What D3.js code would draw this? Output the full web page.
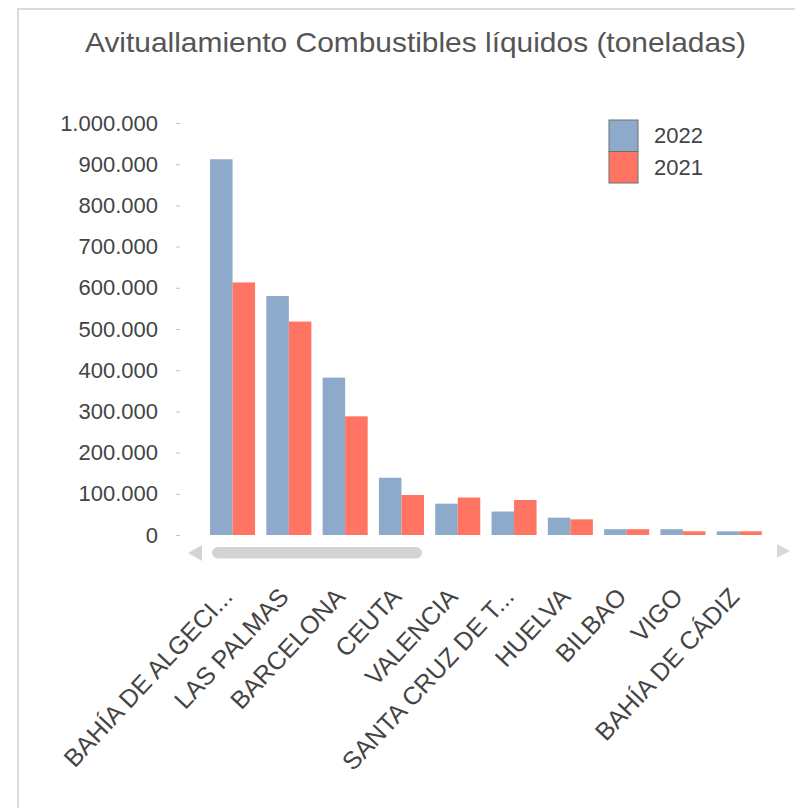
<!DOCTYPE html>
<html>
<head>
<meta charset="utf-8">
<script src="https://cdn.jsdelivr.net/npm/d3@7"></script>
<style>
  body { margin: 0; background: #fff; }
  svg { display: block; font-family: 'Liberation Sans', Arial, sans-serif; }
</style>
</head>
<body>
<svg id="canvas"></svg>
<script>
const categories = ['BAHÍA DE ALGECI...', 'LAS PALMAS', 'BARCELONA', 'CEUTA', 'VALENCIA',
    'SANTA CRUZ DE T...', 'HUELVA', 'BILBAO', 'VIGO', 'BAHÍA DE CÁDIZ'];
const series = ['2022', '2021'];
const values2022 = [912000, 580000, 382000, 139000, 76000, 57000, 42000, 14000, 14000, 9000];
const values2021 = [613000, 518000, 288000, 97000, 91000, 85000, 38000, 14000, 9000, 9000];
const yTicks = [0, 100000, 200000, 300000, 400000, 500000, 600000, 700000, 800000, 900000, 1000000];

const width = 795;
const height = 808;
const colors = { '2022': '#8eaacb', '2021': '#ff7462' };

const svg = d3.select('#canvas')
    .attr('width', width)
    .attr('height', height);

// frame
svg.append('path')
    .attr('d', 'M18,808 L18,9 L795,9')
    .attr('fill', 'none')
    .attr('stroke', '#dadada')
    .attr('stroke-width', 2);

// title
svg.append('text')
    .attr('x', 85)
    .attr('y', 52)
    .attr('textLength', 661)
    .attr('lengthAdjust', 'spacingAndGlyphs')
    .style('font-size', '28px')
    .style('fill', '#555')
    .text('Avituallamiento Combustibles líquidos (toneladas)');

const x = d3.scaleBand()
    .domain(categories)
    .range([204.4, 767.4])
    .paddingInner(0.2)
    .paddingOuter(0.1);

const xs = d3.scaleBand()
    .domain(series)
    .range([0, x.bandwidth()]);

const y = d3.scaleLinear()
    .domain([0, 1000000])
    .range([535, 123]);

const locale = d3.formatLocale({ decimal: ',', thousands: '.', grouping: [3], currency: ['', ''] });

const yAxis = d3.axisLeft(y)
    .tickValues(yTicks)
    .tickFormat(locale.format(',d'))
    .tickSize(4)
    .tickPadding(18);

const gy = svg.append('g')
    .attr('transform', 'translate(180,0)')
    .call(yAxis);
gy.select('.domain').remove();
gy.selectAll('line').attr('stroke', '#c4c4c4');
gy.selectAll('text')
    .style('font-size', '22px')
    .style('fill', '#444')
    .style('font-family', "'Liberation Sans', Arial, sans-serif");

// bars
const rows = categories.map((c, i) => ({ cat: c, vals: [
    { key: '2022', v: values2022[i] },
    { key: '2021', v: values2021[i] }
] }));

svg.append('g')
    .selectAll('g')
    .data(rows)
    .enter()
    .append('g')
    .attr('transform', d => 'translate(' + x(d.cat) + ',0)')
    .selectAll('rect')
    .data(d => d.vals)
    .enter()
    .append('rect')
    .attr('x', d => xs(d.key))
    .attr('width', xs.bandwidth())
    .attr('y', d => y(d.v))
    .attr('height', d => y(0) - y(d.v))
    .attr('fill', d => colors[d.key]);

// x labels
const xAxis = d3.axisBottom(x).tickSize(0).tickPadding(0);
const gx = svg.append('g')
    .attr('transform', 'translate(0,' + y(0) + ')')
    .call(xAxis);
gx.select('.domain').remove();
gx.selectAll('text')
    .attr('y', 0)
    .attr('dy', '0.35em')
    .attr('transform', 'translate(-5,57) rotate(-47)')
    .style('text-anchor', 'end')
    .style('font-size', '25px')
    .style('fill', '#444')
    .style('font-family', "'Liberation Sans', Arial, sans-serif");

// scrollbar
const scroll = svg.append('g');
scroll.append('path')
    .attr('d', 'M188,553 L202,545 L202,561 Z')
    .attr('fill', '#d4d4d4');
scroll.append('rect')
    .attr('x', 212).attr('y', 547)
    .attr('width', 210).attr('height', 11.5)
    .attr('rx', 6)
    .attr('fill', '#d3d3d3');
scroll.append('path')
    .attr('d', 'M790,551 L777,544 L777,558 Z')
    .attr('fill', '#d9d9d9');

// legend
const legend = svg.append('g').attr('transform', 'translate(609,120)');
series.forEach((s, i) => {
    legend.append('rect')
        .attr('x', 0)
        .attr('y', i * 31.5)
        .attr('width', 29)
        .attr('height', 31.5)
        .attr('fill', colors[s])
        .attr('stroke', '#6e6e6e')
        .attr('stroke-width', 1);
    legend.append('text')
        .attr('x', 45)
        .attr('y', 15 + i * 32)
        .attr('dy', '0.35em')
        .style('font-size', '22px')
        .style('fill', '#444')
        .text(s);
});
</script>
</body>
</html>
